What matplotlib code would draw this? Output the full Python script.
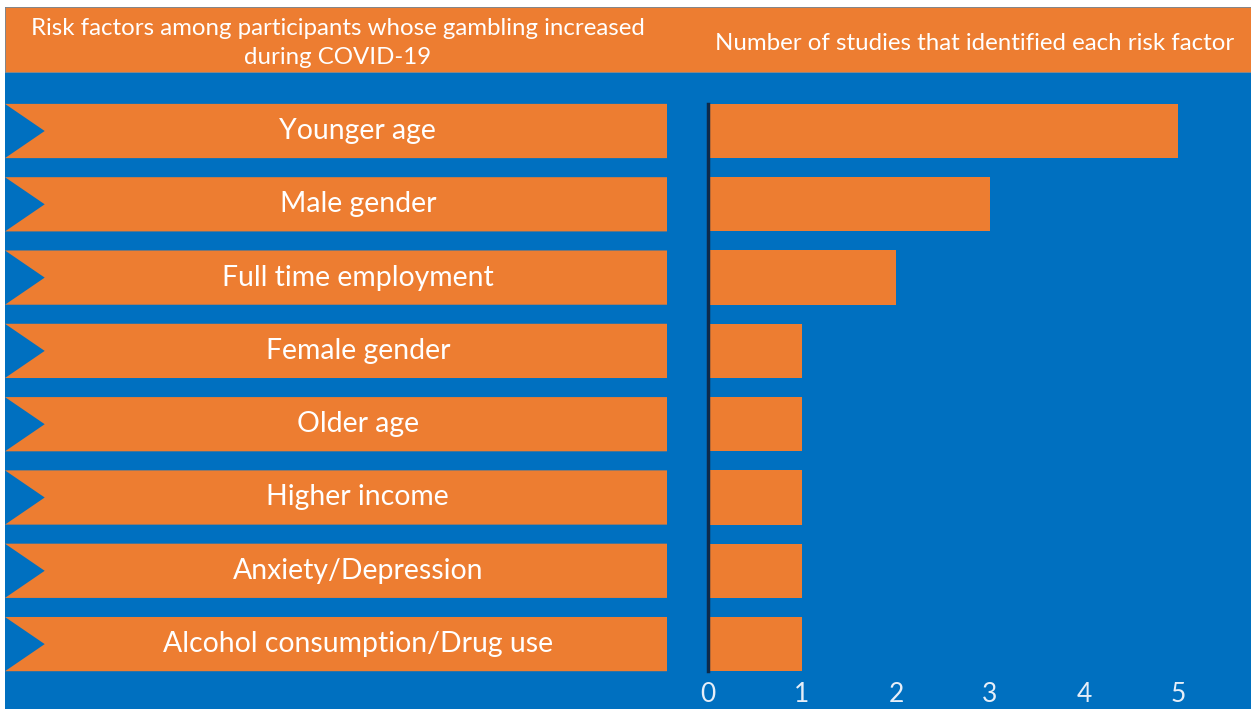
import matplotlib
matplotlib.use("Agg")
import matplotlib.pyplot as plt
from matplotlib.patches import Polygon, Rectangle

# data
factors = ["Younger age", "Male gender", "Full time employment", "Female gender",
           "Older age", "Higher income", "Anxiety/Depression",
           "Alcohol consumption/Drug use"]
n_studies = [5, 3, 2, 1, 1, 1, 1, 1]
ticks = [0, 1, 2, 3, 4, 5]
left_title = "Risk factors among participants whose gambling increased\nduring COVID-19"
right_title = "Number of studies that identified each risk factor"

blue = "#0070C0"
orange = "#ED7D31"
W, H = 1251, 709
plt.rcParams['font.family'] = ['Lato', 'DejaVu Sans']

fig = plt.figure(figsize=(W / 100, H / 100), dpi=100)
fig.patch.set_facecolor("white")

# background panel + header band (pixel coords converted to figure fraction)
fig.patches.append(Rectangle((5 / W, 0), 1 - 5 / W, 1 - 7 / H, transform=fig.transFigure,
                             facecolor=blue, edgecolor="none", zorder=-2))
fig.patches.append(Rectangle((5 / W, 1 - 72 / H), 1 - 5 / W, 65 / H, transform=fig.transFigure,
                             facecolor=orange, edgecolor="#8a8a8a", lw=0.6, zorder=-1))
fig.text(338 / W, 1 - 43 / H, left_title, color="white", ha="center", va="center",
         fontsize=17.3, linespacing=1.44)
fig.text(975 / W, 1 - 44 / H, right_title, color="white", ha="center", va="center",
         fontsize=17.3)

n = len(factors)
bar_h = 0.74
y_top = 72
y_bot = 675
row0, step = 131, 73.3
ylim = ((y_bot - row0) / step, (y_top - row0) / step)
ax_bottom = 1 - y_bot / H
ax_height = (y_bot - y_top) / H

# left: chevron label boxes
axl = fig.add_axes([5 / W, ax_bottom, (667 - 5) / W, ax_height])
axl.set_xlim(0, 1)
axl.set_ylim(*ylim)
axl.axis("off")
notch = 0.06
for i, lab in enumerate(factors):
    t, b = i - bar_h / 2, i + bar_h / 2
    axl.add_patch(Polygon([(0, t), (1, t), (1, b), (0, b), (notch, i)],
                          closed=True, facecolor=orange, edgecolor="none"))
    axl.text(0.533, i, lab, color="white", ha="center", va="center", fontsize=20.4)

# right: bars
x0 = 708
unit = 94.0
axr = fig.add_axes([x0 / W, ax_bottom, (W - x0) / W, ax_height])
axr.patch.set_visible(False)
axr.barh(range(n), n_studies, height=bar_h, color=orange)
axr.set_xlim(0, (W - x0) / unit)
axr.set_ylim(*ylim)
axr.set_xticks(ticks)
axr.set_yticks([])
for s in ["top", "right", "bottom"]:
    axr.spines[s].set_visible(False)
axr.spines["left"].set_color("#0d2a4a")
axr.spines["left"].set_linewidth(2.5)
axr.spines["left"].set_bounds(-bar_h / 2, n - 1 + bar_h / 2)
axr.tick_params(axis="x", length=0, pad=5, labelsize=19, labelcolor="#e6eef8")

fig.savefig("out.png", dpi=100, facecolor=fig.get_facecolor())
